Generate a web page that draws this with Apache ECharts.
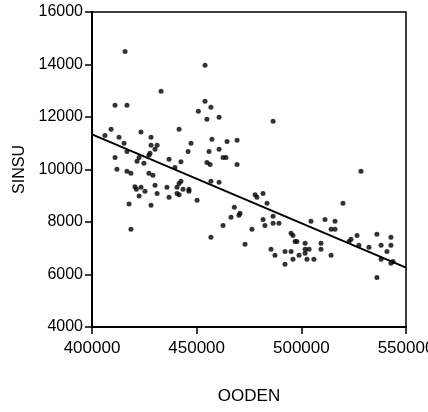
<!DOCTYPE html>
<html>
<head>
<meta charset="utf-8">
<script src="https://cdn.jsdelivr.net/npm/echarts@6/dist/echarts.min.js"></script>
<style>
  html, body { margin: 0; padding: 0; background: #fff; }
  #chart { width: 428px; height: 412px; }
</style>
</head>
<body>
<div id="chart"></div>
<script>
// OODEN vs SINSU observations
const ooden = [
  415800, 433000, 411000, 416700, 450800, 409100, 423400, 441600, 406200, 412900,
  428200, 415300, 447300, 428200, 431100, 416700, 430100, 427700, 427200, 445900,
  411000, 422500, 436800, 421500, 424800, 442500, 454000, 454000, 456800, 454900,
  460700, 486500, 457300, 464500, 469300, 455900, 460700, 462600, 464000, 454900,
  456400, 469300, 411900, 416700, 418600, 427200, 429100, 439600, 420500, 423400,
  421200, 425300, 430100, 431100, 435800, 422500, 436800, 440600, 441600, 442500,
  440600, 441600, 443500, 446300, 446300, 450200, 417700, 428200, 418600, 456800,
  460700, 468000, 470700, 470200, 466400, 462600, 456800, 476400, 473100, 477900,
  478800, 481700, 483600, 486500, 481700, 482600, 486500, 489300, 485500, 487400,
  492200, 495100, 492200, 496000, 495100, 496000, 497000, 497900, 498900, 528500,
  519900, 504600, 511300, 516100, 514200, 516100, 526600, 523700, 522800, 536100,
  542800, 501800, 509400, 527500, 532300, 538100, 542800, 501800, 503700, 509400,
  540900, 501800, 514200, 502700, 506000, 538100, 543800, 542800, 536100
];
const sinsu = [
  14500, 12980, 12450, 12450, 12220, 11530, 11430, 11530, 11300, 11230,
  11230, 11000, 11000, 10920, 10920, 10690, 10770, 10620, 10540, 10690,
  10460, 10460, 10390, 10310, 10240, 10300, 13970, 12600, 12370, 11910,
  11990, 11840, 11150, 11070, 11110, 10690, 10770, 10460, 10460, 10270,
  10190, 10190, 10010, 9930, 9860, 9860, 9780, 10080, 9340, 9320,
  9250, 9170, 9400, 9090, 9320, 8990, 8940, 9320, 9470, 9550,
  9090, 9040, 9250, 9250, 9170, 8830, 8690, 8640, 7720, 9550,
  9510, 8560, 8330, 8260, 8180, 7870, 7420, 7720, 7150, 9040,
  8940, 9090, 8710, 8220, 8100, 7870, 7950, 7950, 6960, 6730,
  6880, 6880, 6390, 6580, 7570, 7490, 7260, 7260, 6730, 9930,
  8710, 8030, 8100, 8030, 7720, 7720, 7490, 7340, 7260, 7530,
  7420, 7190, 7190, 7110, 7040, 7110, 7110, 6960, 6960, 6960,
  6880, 6810, 6730, 6580, 6580, 6580, 6500, 6430, 5890
];

// Fitted regression line, endpoints at the axis limits
const fitX = [400000, 550000];
const fitY = [11340, 6260];

const xTicks = [400000, 450000, 500000, 550000];
const yTicks = [4000, 6000, 8000, 10000, 12000, 14000, 16000];

const font = 'Liberation Sans, Arial, sans-serif';
const plain = v => String(v);

const chart = echarts.init(document.getElementById('chart'), null, { renderer: 'canvas' });
chart.setOption({
  animation: false,
  backgroundColor: '#fff',
  grid: {
    left: 92, right: 22, top: 12, bottom: 85,
    containLabel: false, outerBoundsMode: 'none',
    show: true, borderColor: '#000', borderWidth: 1.5, backgroundColor: 'transparent'
  },
  xAxis: {
    type: 'value',
    min: xTicks[0], max: xTicks[xTicks.length - 1], interval: 50000,
    name: 'OODEN', nameLocation: 'middle', nameGap: 61,
    nameTextStyle: { color: '#000', fontSize: 17, fontFamily: font },
    axisLine: { show: true, onZero: false, lineStyle: { color: '#000', width: 2 } },
    axisTick: { show: true, length: 7, inside: false, lineStyle: { color: '#000', width: 1.5 } },
    axisLabel: { color: '#000', fontSize: 17, fontFamily: font, margin: 13, formatter: plain, showMinLabel: true, showMaxLabel: true, hideOverlap: false },
    splitLine: { show: false }
  },
  yAxis: {
    type: 'value',
    min: yTicks[0], max: yTicks[yTicks.length - 1], interval: 2000,
    name: 'SINSU', nameLocation: 'middle', nameGap: 64, nameRotate: 90,
    nameTextStyle: { color: '#000', fontSize: 16, fontFamily: font },
    axisLine: { show: true, onZero: false, lineStyle: { color: '#000', width: 2 } },
    axisTick: { show: true, length: 7, inside: false, lineStyle: { color: '#000', width: 1.5 } },
    axisLabel: { color: '#000', fontSize: 16, fontFamily: font, margin: 9, formatter: plain },
    splitLine: { show: false }
  },
  series: [
    {
      type: 'scatter',
      data: ooden.map((x, i) => [x, sinsu[i]]),
      symbol: 'circle',
      symbolSize: 5,
      itemStyle: { color: '#000' },
      silent: true
    },
    {
      type: 'line',
      data: fitX.map((x, i) => [x, fitY[i]]),
      symbol: 'none',
      lineStyle: { color: '#000', width: 2 },
      silent: true
    }
  ]
});
</script>
</body>
</html>
